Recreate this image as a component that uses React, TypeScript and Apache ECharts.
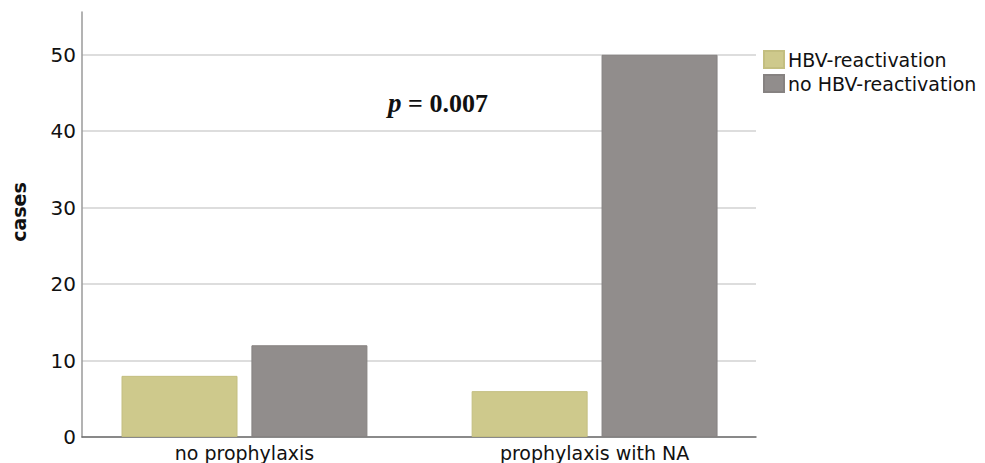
import React, { useEffect, useRef } from "react";
import * as echarts from "echarts";

const categories = ["no prophylaxis", "prophylaxis with NA"];
const seriesNames = ["HBV-reactivation", "no HBV-reactivation"];
const reactivation = [8, 6];
const noReactivation = [12, 50];
const yTicks = [0, 10, 20, 30, 40, 50];
const pText = "= 0.007";

export default function App() {
  const ref = useRef<HTMLDivElement>(null);
  useEffect(() => {
    if (!ref.current) return;
    const chart = echarts.init(ref.current, undefined, { renderer: "svg" });
    const sans = "DejaVu Sans";
    chart.setOption({
      animation: false,
      backgroundColor: "#ffffff",
      grid: { left: 82, right: 229, top: 12, bottom: 26, containLabel: false },
      legend: {
        orient: "vertical",
        left: 758,
        top: 45,
        itemWidth: 20,
        itemHeight: 17,
        itemGap: 5,
        icon: "rect",
        textStyle: { fontFamily: sans, fontSize: 19, color: "#111111", padding: [0, 0, 0, -1] },
        data: seriesNames,
      },
      xAxis: {
        type: "value",
        min: -0.464,
        max: 1.461,
        splitLine: { show: false },
        axisTick: { show: false },
        axisLine: { show: true, lineStyle: { color: "#6e6e6e", width: 1.5 } },
        axisLabel: {
          customValues: [0, 1],
          formatter: (v: number) => categories[Math.round(v)] ?? "",
          fontFamily: sans,
          fontSize: 19,
          color: "#111111",
          margin: 6,
        },
      },
      yAxis: {
        type: "value",
        min: 0,
        max: 55.6,
        interval: 10,
        axisLine: { show: true, onZero: false, lineStyle: { color: "#9a9a9a", width: 1.5 } },
        axisTick: { show: false },
        splitLine: { show: true, showMaxLine: false, lineStyle: { color: "#d2d2d2", width: 1.5 } },
        axisLabel: {
          customValues: yTicks,
          fontFamily: sans,
          fontSize: 20,
          color: "#111111",
          margin: 6,
        },
      },
      graphic: [
        {
          type: "text",
          x: 19,
          y: 212,
          rotation: Math.PI / 2,
          style: {
            text: "cases",
            fontFamily: sans,
            fontWeight: "bold",
            fontSize: 19,
            fill: "#111111",
            align: "center",
            verticalAlign: "middle",
          },
        },
        {
          type: "text",
          x: 438,
          y: 103,
          style: {
            text: "{i|p} {b|" + pText + "}",
            align: "center",
            verticalAlign: "middle",
            rich: {
              i: { fontFamily: "Liberation Serif", fontStyle: "italic", fontWeight: "bold", fontSize: 27, fill: "#111" },
              b: { fontFamily: "Liberation Serif", fontWeight: "bold", fontSize: 26, fill: "#111" },
            },
            fontFamily: "Liberation Serif",
            fontSize: 26,
          },
        },
      ],
      series: [
        {
          name: seriesNames[0],
          type: "bar",
          barWidth: 116,
          barGap: "12%",
          itemStyle: { color: "#cec98c", borderColor: "#c3be80", borderWidth: 1 },
          data: reactivation.map((v, i) => [i, v]),
        },
        {
          name: seriesNames[1],
          type: "bar",
          barWidth: 116,
          barGap: "12%",
          itemStyle: { color: "#918d8c", borderColor: "#868281", borderWidth: 1 },
          data: noReactivation.map((v, i) => [i, v]),
        },
      ],
    });
    return () => chart.dispose();
  }, []);
  return <div ref={ref} style={{ width: 985, height: 463, position: "absolute", left: 0, top: 0 }} />;
}
